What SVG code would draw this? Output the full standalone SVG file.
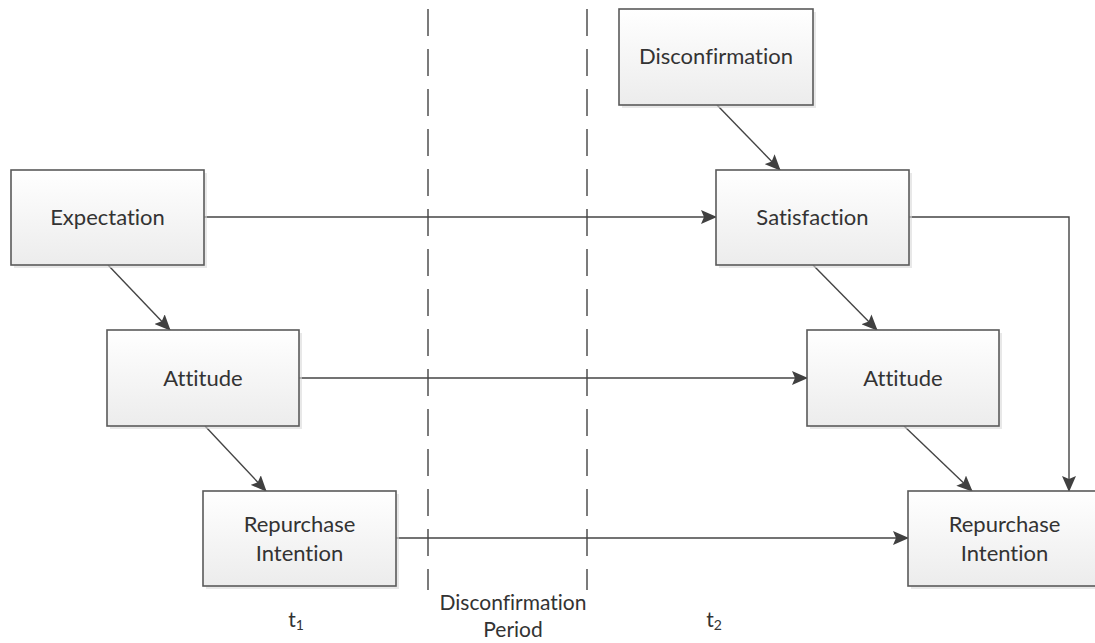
<svg xmlns="http://www.w3.org/2000/svg" width="1095" height="643" viewBox="0 0 1095 643">
  <style>
    .box { fill: url(#boxFill); stroke: #5a5a5a; stroke-width: 1.6; }
    .shadow { fill: #d8d8d8; opacity: 0.6; }
    .label { font-family: Lato, "Liberation Sans", sans-serif; font-size: 22px; fill: #333333; text-anchor: middle; font-variant-ligatures: none; }
    .edge { fill: none; stroke: #444444; stroke-width: 1.4; marker-end: url(#arrow); }
    .divider { fill: none; stroke: #444444; stroke-width: 1.4; stroke-dasharray: 27 13; }
    .note { font-family: Lato, "Liberation Sans", sans-serif; font-size: 21px; fill: #333333; text-anchor: middle; font-variant-ligatures: none; }
  </style>
  <defs>
    <linearGradient id="boxFill" x1="0" y1="0" x2="0" y2="1">
      <stop offset="0" stop-color="#ffffff"/>
      <stop offset="1" stop-color="#ececec"/>
    </linearGradient>
    <marker id="arrow" viewBox="0 0 16 14" refX="15" refY="7" markerWidth="16" markerHeight="14" markerUnits="userSpaceOnUse" orient="auto">
      <path d="M0,0 L16,7 L0,14 L3,7 Z" fill="#404040"/>
    </marker>
  </defs>

  <rect width="1095" height="643" fill="#ffffff"/>

  <!-- period separators -->
  <g id="dividers">
    <line class="divider" x1="428" y1="9" x2="428" y2="590"/>
    <line class="divider" x1="587" y1="9" x2="587" y2="590"/>
  </g>

  <!-- connectors -->
  <g id="connectors">
    <line class="edge" x1="204" y1="217" x2="716" y2="217"/>
    <line class="edge" x1="299" y1="378" x2="807" y2="378"/>
    <line class="edge" x1="396" y1="538" x2="908" y2="538"/>
    <line class="edge" x1="108" y1="265" x2="170" y2="330"/>
    <line class="edge" x1="205" y1="426" x2="266" y2="491"/>
    <line class="edge" x1="717" y1="105" x2="780" y2="170"/>
    <line class="edge" x1="813" y1="265" x2="877" y2="330"/>
    <line class="edge" x1="904" y1="426" x2="972" y2="491"/>
    <polyline class="edge" points="909,217 1069,217 1069,491"/>
  </g>

  <!-- nodes -->
  <g id="disconfirmation">
    <rect class="shadow" x="622" y="12" width="194" height="96"/>
    <rect class="box" x="619" y="9" width="194" height="96"/>
    <text class="label" x="716" y="64">Disconfirmation</text>
  </g>
  <g id="expectation">
    <rect class="shadow" x="14" y="173" width="193" height="95"/>
    <rect class="box" x="11" y="170" width="193" height="95"/>
    <text class="label" x="107.5" y="225">Expectation</text>
  </g>
  <g id="satisfaction">
    <rect class="shadow" x="719" y="173" width="193" height="95"/>
    <rect class="box" x="716" y="170" width="193" height="95"/>
    <text class="label" x="812.5" y="225">Satisfaction</text>
  </g>
  <g id="attitude-t1">
    <rect class="shadow" x="110" y="333" width="192" height="96"/>
    <rect class="box" x="107" y="330" width="192" height="96"/>
    <text class="label" x="203" y="386">Attitude</text>
  </g>
  <g id="attitude-t2">
    <rect class="shadow" x="810" y="333" width="192" height="96"/>
    <rect class="box" x="807" y="330" width="192" height="96"/>
    <text class="label" x="903" y="386">Attitude</text>
  </g>
  <g id="repurchase-t1">
    <rect class="shadow" x="206" y="494" width="193" height="95"/>
    <rect class="box" x="203" y="491" width="193" height="95"/>
    <text class="label" x="299.5" y="532">Repurchase</text>
    <text class="label" x="299.5" y="561">Intention</text>
  </g>
  <g id="repurchase-t2">
    <rect class="shadow" x="911" y="494" width="193" height="95"/>
    <rect class="box" x="908" y="491" width="193" height="95"/>
    <text class="label" x="1004.5" y="532">Repurchase</text>
    <text class="label" x="1004.5" y="561">Intention</text>
  </g>

  <!-- period labels -->
  <g id="period-labels">
    <text class="note" x="296" y="627">t<tspan font-size="14" dy="3">1</tspan></text>
    <text class="note" x="513" y="610">Disconfirmation</text>
    <text class="note" x="513" y="637">Period</text>
    <text class="note" x="714" y="627">t<tspan font-size="14" dy="3">2</tspan></text>
  </g>
</svg>
